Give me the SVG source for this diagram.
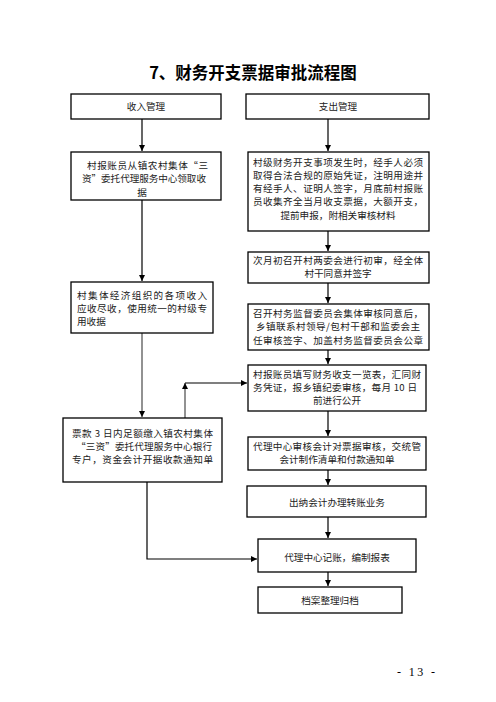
<svg xmlns="http://www.w3.org/2000/svg" width="496" height="702" viewBox="0 0 496 702">
<defs>
<style>
.box{fill:#fff;stroke:#000;stroke-width:1.3}
.t{font-family:"Noto Sans CJK SC","Noto Sans",sans-serif;font-size:9.6px;fill:#222}
.m{text-anchor:middle}
.title{font-family:"Noto Sans CJK SC","Noto Sans",sans-serif;font-size:16.5px;font-weight:bold;fill:#000;text-anchor:middle}
.c{fill:none;stroke:#000;stroke-width:1.2}
.g{stroke:#777;stroke-width:1.6}
</style>
<marker id="ar" viewBox="0 0 6 6" refX="6" refY="3" markerWidth="6" markerHeight="6" markerUnits="userSpaceOnUse" orient="auto"><path d="M0,0 L6,3 L0,6 z" fill="#000"/></marker>
</defs>
<rect width="496" height="702" fill="#fff"/>
<text class="title" x="253" y="79">7、财务开支票据审批流程图</text>

<g id="connectors">
<path class="c" d="M142,119 V151" marker-end="url(#ar)"/>
<path class="c" d="M328,119 V151" marker-end="url(#ar)"/>
<path class="c" d="M142,200 V281" marker-end="url(#ar)"/>
<path class="c g" d="M142,333 V417" marker-end="url(#ar)"/>
<path class="c g" d="M185,418 V383" marker-end="url(#ar)"/>
<path class="c" d="M185,383 H247" marker-end="url(#ar)"/>
<path class="c" d="M328,231 V251" marker-end="url(#ar)"/>
<path class="c" d="M328,283 V303" marker-end="url(#ar)"/>
<path class="c" d="M328,350 V364" marker-end="url(#ar)"/>
<path class="c" d="M328,411 V436" marker-end="url(#ar)"/>
<path class="c" d="M328,470 V485" marker-end="url(#ar)"/>
<path class="c" d="M328,517 V538" marker-end="url(#ar)"/>
<path class="c" d="M147,482 V559 H257" marker-end="url(#ar)"/>
<path class="c" d="M328,572 V586" marker-end="url(#ar)"/>
</g>

<g id="n-income">
<rect class="box" x="71" y="94" width="150" height="25"/>
<text class="t m" x="146" y="110">收入管理</text>
</g>
<g id="n-expense">
<rect class="box" x="246" y="94" width="183" height="25"/>
<text class="t m" x="338" y="110">支出管理</text>
</g>

<g id="n-l1">
<rect class="box" x="71" y="152" width="150" height="48"/>
<text class="t" x="87" y="168.5" textLength="121" lengthAdjust="spacing">村报账员从镇农村集体“三</text>
<text class="t" x="82" y="182" textLength="124" lengthAdjust="spacing">资”委托代理服务中心领取收</text>
<text class="t m" x="142" y="195.5">据</text>
</g>

<g id="n-l2">
<rect class="box" x="71" y="282" width="142" height="51"/>
<text class="t" x="77" y="298.5" textLength="130" lengthAdjust="spacing">村集体经济组织的各项收入</text>
<text class="t" x="77" y="311.5" textLength="130" lengthAdjust="spacing">应收尽收，使用统一的村级专</text>
<text class="t" x="77" y="324.5">用收据</text>
</g>

<g id="n-l3">
<rect class="box" x="63" y="418" width="159" height="64"/>
<text class="t" x="72" y="436.5" textLength="141" lengthAdjust="spacing">票款 3 日内足额缴入镇农村集体</text>
<text class="t" x="76" y="449.5" textLength="136" lengthAdjust="spacing">“三资”委托代理服务中心银行</text>
<text class="t" x="72" y="462.5" textLength="141" lengthAdjust="spacing">专户，资金会计开据收款通知单</text>
</g>

<g id="n-r1">
<rect class="box" x="248" y="152" width="181" height="79"/>
<text class="t" x="253" y="165.5" textLength="170" lengthAdjust="spacing">村级财务开支事项发生时，经手人必须</text>
<text class="t" x="253" y="178.8" textLength="170" lengthAdjust="spacing">取得合法合规的原始凭证，注明用途并</text>
<text class="t" x="253" y="192.1" textLength="170" lengthAdjust="spacing">有经手人、证明人签字，月底前村报账</text>
<text class="t" x="253" y="205.4" textLength="170" lengthAdjust="spacing">员收集齐全当月收支票据，大额开支，</text>
<text class="t m" x="338" y="218.7">提前申报，附相关审核材料</text>
</g>

<g id="n-r2">
<rect class="box" x="248" y="252" width="181" height="31"/>
<text class="t" x="253" y="263.5" textLength="170" lengthAdjust="spacing">次月初召开村两委会进行初审，经全体</text>
<text class="t m" x="338" y="276.5">村干同意并签字</text>
</g>

<g id="n-r3">
<rect class="box" x="248" y="304" width="181" height="46"/>
<text class="t" x="253" y="316.5" textLength="170" lengthAdjust="spacing">召开村务监督委员会集体审核同意后，</text>
<text class="t" x="256" y="330" textLength="164" lengthAdjust="spacing">乡镇联系村领导/包村干部和监委会主</text>
<text class="t" x="253" y="343.5" textLength="170" lengthAdjust="spacing">任审核签字、加盖村务监督委员会公章</text>
</g>

<g id="n-r4">
<rect class="box" x="248" y="365" width="178" height="46"/>
<text class="t" x="253" y="378" textLength="168" lengthAdjust="spacing">村报账员填写财务收支一览表，汇同财</text>
<text class="t" x="253" y="391" textLength="164" lengthAdjust="spacing">务凭证，报乡镇纪委审核，每月 10 日</text>
<text class="t m" x="337" y="404">前进行公开</text>
</g>

<g id="n-r5">
<rect class="box" x="248" y="437" width="178" height="33"/>
<text class="t" x="253" y="450" textLength="168" lengthAdjust="spacing">代理中心审核会计对票据审核，交统管</text>
<text class="t m" x="337" y="463">会计制作清单和付款通知单</text>
</g>

<g id="n-r6">
<rect class="box" x="247" y="486" width="179" height="31"/>
<text class="t m" x="337" y="506">出纳会计办理转账业务</text>
</g>

<g id="n-r7">
<rect class="box" x="258" y="539" width="158" height="33"/>
<text class="t m" x="337" y="560.5">代理中心记账，编制报表</text>
</g>

<g id="n-r8">
<rect class="box" x="258" y="587" width="144" height="26"/>
<text class="t m" x="330" y="603.5">档案整理归档</text>
</g>

<text x="397" y="676" font-family="Liberation Serif, serif" font-size="12" fill="#000" textLength="38" lengthAdjust="spacing">- 13 -</text>
</svg>
